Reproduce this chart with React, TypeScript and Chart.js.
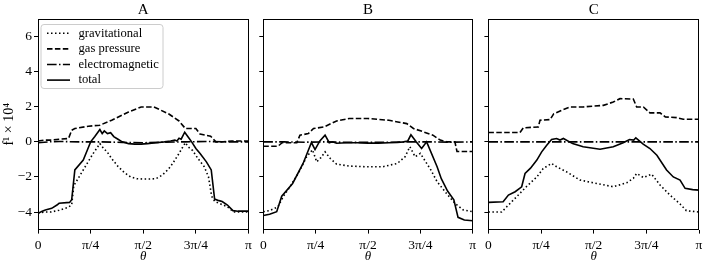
import React, { useEffect, useRef } from 'react';
import { Chart, registerables } from 'chart.js';

Chart.register(...registerables);

// ---- axes / labels ----
const xTicks = [0, 0.25, 0.5, 0.75, 1]; // in units of pi
const xTickLabels = ['0', 'π/4', 'π/2', '3π/4', 'π'];
const yTicks = [-4, -2, 0, 2, 4, 6];
const panelTitles = ['A', 'B', 'C'];
const seriesNames = ['gravitational', 'gas pressure', 'electromagnetic', 'total'];

// ---- Panel A ----
const gravA_t = [0, 0.03, 0.06, 0.1, 0.14, 0.16, 0.17, 0.2, 0.23, 0.26, 0.28, 0.294, 0.31, 0.33, 0.35, 0.38, 0.41, 0.44, 0.47, 0.5, 0.53, 0.56, 0.59, 0.62, 0.64, 0.67, 0.685, 0.7, 0.715, 0.735, 0.76, 0.79, 0.81, 0.825, 0.84, 0.86, 0.9, 0.93, 0.96, 1];
const gravA_y = [-4.05, -4.0, -4.0, -3.9, -3.75, -3.6, -2.5, -1.9, -1.3, -0.7, -0.35, -0.1, -0.35, -0.6, -0.95, -1.4, -1.75, -2.0, -2.1, -2.12, -2.12, -2.1, -1.9, -1.55, -1.23, -0.66, -0.35, -0.05, -0.3, -0.5, -0.95, -1.42, -2.0, -3.1, -3.4, -3.5, -3.7, -4.0, -4.0, -4.0];
const gasA_t = [0, 0.03, 0.06, 0.1, 0.145, 0.16, 0.175, 0.24, 0.294, 0.35, 0.43, 0.49, 0.55, 0.62, 0.67, 0.7, 0.75, 0.77, 0.82, 0.845, 0.88, 0.92, 1];
const gasA_y = [0.05, 0.1, 0.1, 0.15, 0.19, 0.66, 0.76, 0.89, 0.95, 1.23, 1.7, 1.99, 1.99, 1.6, 1.19, 0.76, 0.76, 0.44, 0.32, 0.0, 0.0, 0.05, 0.05];
const emA_t = [0, 0.05, 0.1, 0.2, 0.3, 0.4, 0.5, 0.6, 0.7, 0.8, 0.9, 1];
const emA_y = [-0.05, 0.0, 0.02, 0.0, 0.0, -0.03, -0.05, -0.02, 0.0, 0.02, 0.0, 0.0];
const totA_t = [0, 0.02, 0.035, 0.065, 0.09, 0.1, 0.15, 0.16, 0.175, 0.215, 0.235, 0.25, 0.27, 0.294, 0.305, 0.315, 0.33, 0.345, 0.36, 0.38, 0.4, 0.43, 0.46, 0.49, 0.52, 0.56, 0.6, 0.63, 0.65, 0.66, 0.67, 0.68, 0.697, 0.715, 0.73, 0.75, 0.77, 0.8, 0.823, 0.839, 0.86, 0.875, 0.9, 0.926, 0.95, 1];
const totA_y = [-4.07, -3.95, -3.88, -3.79, -3.6, -3.5, -3.45, -3.3, -1.6, -1.04, -0.45, 0.0, 0.3, 0.7, 0.47, 0.62, 0.47, 0.52, 0.3, 0.15, 0.0, -0.1, -0.13, -0.13, -0.1, -0.05, 0.0, 0.05, 0.1, 0.05, 0.2, 0.15, 0.55, 0.25, 0.0, -0.38, -0.66, -1.14, -1.6, -3.26, -3.35, -3.4, -3.6, -3.92, -3.95, -3.95];

// ---- Panel B ----
const gravB_t = [0, 0.03, 0.07, 0.096, 0.127, 0.167, 0.207, 0.235, 0.255, 0.275, 0.295, 0.32, 0.35, 0.41, 0.49, 0.57, 0.64, 0.677, 0.7, 0.725, 0.75, 0.8, 0.83, 0.875, 0.915, 0.955, 1];
const gravB_y = [-3.98, -3.92, -3.7, -3.1, -2.56, -1.8, -0.85, -0.45, -1.14, -0.9, -0.57, -0.95, -1.27, -1.38, -1.42, -1.42, -1.23, -0.85, -0.28, -0.85, -0.66, -1.6, -2.27, -2.94, -3.5, -3.88, -3.98];
const gasB_t = [0, 0.07, 0.09, 0.16, 0.175, 0.215, 0.24, 0.29, 0.35, 0.41, 0.5, 0.6, 0.685, 0.717, 0.765, 0.81, 0.845, 0.875, 0.915, 0.925, 1];
const gasB_y = [-0.25, -0.25, -0.05, -0.05, 0.38, 0.47, 0.76, 0.85, 1.19, 1.33, 1.33, 1.23, 1.04, 0.76, 0.57, 0.38, 0.1, 0.0, 0.0, -0.55, -0.55];
const emB_t = [0, 0.1, 0.2, 0.3, 0.4, 0.5, 0.6, 0.7, 0.8, 0.9, 1];
const emB_y = [0.0, 0.0, -0.02, 0.0, -0.03, -0.03, -0.02, 0.0, 0.0, -0.02, 0.0];
const totB_t = [0, 0.03, 0.064, 0.088, 0.14, 0.19, 0.23, 0.247, 0.27, 0.295, 0.315, 0.33, 0.35, 0.4, 0.45, 0.5, 0.55, 0.6, 0.64, 0.67, 0.69, 0.705, 0.73, 0.756, 0.78, 0.83, 0.85, 0.88, 0.91, 0.93, 0.96, 1];
const totB_y = [-4.2, -4.12, -3.98, -3.1, -2.37, -1.23, -0.04, -0.44, 0.05, 0.38, -0.05, 0.0, -0.08, -0.05, -0.05, -0.07, -0.07, -0.05, -0.03, 0.0, 0.05, 0.4, 0.0, -0.38, 0.0, -1.42, -2.1, -2.8, -3.3, -4.3, -4.45, -4.5];

// ---- Panel C ----
const gravC_t = [0, 0.063, 0.087, 0.134, 0.18, 0.23, 0.26, 0.3, 0.324, 0.37, 0.435, 0.514, 0.593, 0.657, 0.688, 0.704, 0.736, 0.775, 0.815, 0.862, 0.91, 0.94, 1];
const gravC_y = [-4.0, -4.0, -3.7, -3.13, -2.56, -2.0, -1.52, -1.23, -1.42, -1.7, -2.18, -2.37, -2.56, -2.33, -2.08, -1.8, -2.03, -1.84, -2.46, -3.03, -3.54, -3.92, -4.0];
const gasC_t = [0, 0.15, 0.166, 0.237, 0.245, 0.293, 0.31, 0.348, 0.388, 0.45, 0.546, 0.593, 0.625, 0.688, 0.704, 0.736, 0.767, 0.815, 0.84, 0.894, 0.925, 1];
const gasC_y = [0.53, 0.53, 0.8, 0.85, 1.23, 1.27, 1.6, 1.8, 1.99, 1.99, 2.08, 2.27, 2.46, 2.44, 1.99, 1.99, 1.65, 1.65, 1.42, 1.38, 1.29, 1.29];
const emC_t = [0, 0.25, 0.5, 0.75, 1];
const emC_y = [0.0, 0.0, 0.0, 0.0, 0.0];
const totC_t = [0, 0.07, 0.095, 0.127, 0.158, 0.174, 0.2, 0.23, 0.253, 0.277, 0.3, 0.324, 0.34, 0.356, 0.4, 0.45, 0.53, 0.593, 0.64, 0.67, 0.69, 0.7, 0.735, 0.767, 0.8, 0.846, 0.878, 0.91, 0.934, 0.97, 1];
const totC_y = [-3.45, -3.41, -3.03, -2.84, -2.56, -1.8, -1.5, -1.04, -0.57, -0.19, 0.13, 0.19, 0.1, 0.19, -0.1, -0.28, -0.42, -0.28, -0.05, 0.13, 0.1, 0.23, -0.13, -0.38, -0.76, -1.6, -2.0, -2.18, -2.65, -2.72, -2.75];

const panelSeries = [
  [[gravA_t, gravA_y], [gasA_t, gasA_y], [emA_t, emA_y], [totA_t, totA_y]],
  [[gravB_t, gravB_y], [gasB_t, gasB_y], [emB_t, emB_y], [totB_t, totB_y]],
  [[gravC_t, gravC_y], [gasC_t, gasC_y], [emC_t, emC_y], [totC_t, totC_y]],
];

const FONT = "'Liberation Serif', 'Times New Roman', serif";
const DASHES = [[1.5, 2.5], [5.5, 2.4], [9.6, 2.4, 1.5, 2.4], []];
const W = 710;
const H = 266;
// layout: [padLeft, yAxisWidth, chartRight]
const GEOM = [
  [0, 38, 248.5],
  [257.3, 6, 472.7],
  [482.4, 6, 699],
];

const framePlugin = {
  id: 'frame',
  afterDraw(chart: any) {
    const { ctx, chartArea: a } = chart;
    ctx.save();
    ctx.strokeStyle = '#000';
    ctx.lineWidth = 1;
    const l = Math.round(a.left) + 0.5;
    const t = Math.round(a.top) + 0.5;
    const r = Math.round(a.right) - 0.5;
    const b = Math.round(a.bottom) - 0.5;
    ctx.strokeRect(l, t, r - l, b - t);
    ctx.restore();
  },
};

const boxLegendPlugin = {
  id: 'boxLegend',
  afterDraw(chart: any, _args: any, opts: any) {
    if (!opts || !opts.show) return;
    const { ctx, chartArea: a } = chart;
    const x0 = a.left + 3;
    const y0 = a.top + 5.5;
    const w = 122;
    const h = 64;
    ctx.save();
    ctx.beginPath();
    const r = 3;
    ctx.moveTo(x0 + r, y0);
    ctx.lineTo(x0 + w - r, y0);
    ctx.arcTo(x0 + w, y0, x0 + w, y0 + r, r);
    ctx.lineTo(x0 + w, y0 + h - r);
    ctx.arcTo(x0 + w, y0 + h, x0 + w - r, y0 + h, r);
    ctx.lineTo(x0 + r, y0 + h);
    ctx.arcTo(x0, y0 + h, x0, y0 + h - r, r);
    ctx.lineTo(x0, y0 + r);
    ctx.arcTo(x0, y0, x0 + r, y0, r);
    ctx.closePath();
    ctx.fillStyle = 'rgba(255,255,255,0.8)';
    ctx.fill();
    ctx.strokeStyle = '#cccccc';
    ctx.lineWidth = 1;
    ctx.stroke();
    chart.data.datasets.forEach((ds: any, i: number) => {
      const y = y0 + 8.8 + i * 15.6;
      ctx.beginPath();
      ctx.setLineDash(ds.borderDash || []);
      ctx.lineWidth = ds.borderWidth;
      ctx.strokeStyle = '#000';
      ctx.moveTo(x0 + 6, y);
      ctx.lineTo(x0 + 29, y);
      ctx.stroke();
      ctx.setLineDash([]);
      ctx.fillStyle = '#000';
      ctx.font = `12.6px ${FONT}`;
      ctx.textBaseline = 'middle';
      ctx.textAlign = 'left';
      ctx.fillText(ds.label, x0 + 37.5, y);
    });
    ctx.restore();
  },
};

function fmtY(v: number) {
  return v < 0 ? '\u2212' + Math.abs(v) : String(v);
}

function makeConfig(p: number): any {
  const [padLeft, yWidth, chartRight] = GEOM[p];
  const datasets = panelSeries[p].map(([ts, ys], i) => ({
    label: seriesNames[i],
    data: ts.map((t, k) => ({ x: t, y: ys[k] })),
    borderColor: '#000',
    backgroundColor: '#000',
    borderWidth: 1.6,
    borderDash: DASHES[i],
    borderCapStyle: 'butt',
    pointRadius: 0,
    tension: 0,
    fill: false,
  }));
  return {
    type: 'line',
    data: { datasets },
    options: {
      responsive: false,
      animation: false,
      devicePixelRatio: 1,
      events: [],
      layout: { padding: { left: padLeft, right: W - chartRight, top: 0, bottom: 0 } },
      plugins: {
        legend: { display: false },
        tooltip: { enabled: false },
        title: {
          display: true,
          text: panelTitles[p],
          fullSize: false,
          color: '#000',
          font: { family: FONT, size: 15, weight: 'normal' },
          padding: { top: 1, bottom: 0 },
        },
        boxLegend: { show: p === 0 },
      },
      scales: {
        x: {
          type: 'linear',
          min: 0,
          max: 1,
          afterBuildTicks: (s: any) => {
            s.ticks = xTicks.map((v) => ({ value: v }));
          },
          afterFit: (s: any) => {
            s.height = 36.4;
          },
          ticks: {
            callback: (v: number) => xTickLabels[xTicks.indexOf(v)] ?? '',
            font: { family: FONT, size: 13.5 },
            color: '#000',
            padding: 3.3,
            maxRotation: 0,
            autoSkip: false,
          },
          grid: { display: true, drawOnChartArea: false, drawTicks: true, tickLength: 4, color: '#000', lineWidth: 1 },
          border: { display: false },
          title: {
            display: true,
            text: 'θ',
            color: '#000',
            font: { family: FONT, size: 13, style: 'italic' },
            padding: { top: 0, bottom: 1.2 },
          },
        },
        y: {
          type: 'linear',
          position: 'left',
          min: -5,
          max: 7,
          afterBuildTicks: (s: any) => {
            s.ticks = yTicks.map((v) => ({ value: v }));
          },
          afterFit: (s: any) => {
            s.width = yWidth;
          },
          ticks: {
            display: p === 0,
            callback: (v: number) => fmtY(v),
            font: { family: FONT, size: 13.5 },
            color: '#000',
            padding: 2,
          },
          grid: { display: true, drawOnChartArea: false, drawTicks: true, tickLength: 4, color: '#000', lineWidth: 1 },
          border: { display: false },
          title: {
            display: p === 0,
            text: 'f¹ × 10⁴',
            color: '#000',
            font: { family: FONT, size: 14 },
            padding: { top: 0.6, bottom: 0 },
          },
        },
      },
    },
    plugins: [framePlugin, boxLegendPlugin],
  };
}

function Panel({ index }: { index: number }) {
  const ref = useRef<HTMLCanvasElement | null>(null);
  useEffect(() => {
    if (!ref.current) return;
    const chart = new Chart(ref.current, makeConfig(index));
    return () => chart.destroy();
  }, [index]);
  return (
    <canvas
      ref={ref}
      width={W}
      height={H}
      style={{ position: 'absolute', left: 0, top: 0, width: W, height: H }}
    />
  );
}

export default function App() {
  return (
    <div style={{ position: 'fixed', left: 0, top: 0, width: W, height: H, background: '#fff' }}>
      <Panel index={0} />
      <Panel index={1} />
      <Panel index={2} />
    </div>
  );
}
